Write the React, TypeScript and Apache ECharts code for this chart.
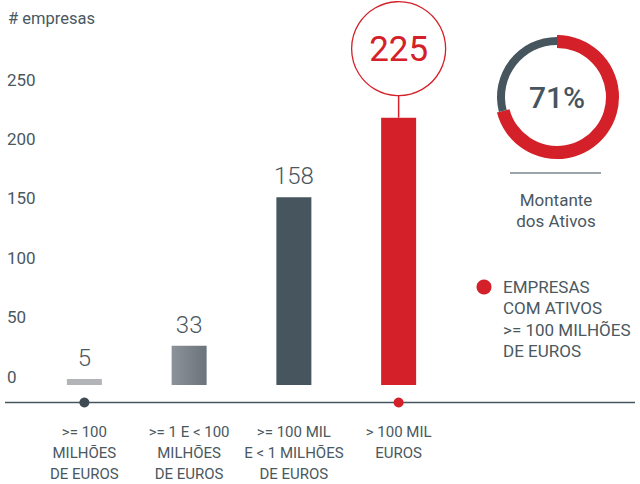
import React, { useEffect, useRef } from "react";
import * as echarts from "echarts";

const yTitle = "# empresas";
const categories = [
  ">= 100\nMILHÕES\nDE EUROS",
  ">= 1 E < 100\nMILHÕES\nDE EUROS",
  ">= 100 MIL\nE < 1 MILHÕES\nDE EUROS",
  "> 100 MIL\nEUROS",
];
const values = [5, 33, 158, 225];
const barColors = ["#b2b4b7", "grad", "#46555e", "#d42029"];
const highlightIndex = 3;
const dotIndices = [0, 3];
const dotColors = ["#3f4b52", "#d42029"];
const yMin = 0;
const yMax = 250;
const yInterval = 50;
const donutShare = 71;
const donutCaption = ["Montante", "dos Ativos"];
const legendLines = ["EMPRESAS", "COM ATIVOS", ">= 100 MILHÕES", "DE EUROS"];

const TXT = "#4a5860";
const DARK = "#46555e";
const RED = "#d42029";

export default function App() {
  const ref = useRef<HTMLDivElement>(null);
  useEffect(() => {
    if (!ref.current) return;
    const chart = echarts.init(ref.current, undefined, { renderer: "svg" });
    const barData = values.map((v, i) => {
      let color: any = barColors[i];
      if (color === "grad") {
        color = new echarts.graphic.LinearGradient(0, 0, 1, 0, [
          { offset: 0, color: "#8c9299" },
          { offset: 1, color: "#6b747b" },
        ]);
      }
      return {
        value: v,
        itemStyle: { color },
        label: { show: i !== highlightIndex },
      };
    });
    chart.setOption({
      animation: false,
      textStyle: { fontFamily: "Roboto" },
      grid: { left: 32, right: 189, top: 88, bottom: 98 },
      xAxis: {
        type: "category",
        data: categories,
        axisLine: { show: false },
        axisTick: { show: false },
        axisLabel: {
          margin: 36,
          fontSize: 15,
          lineHeight: 21,
          color: TXT,
          verticalAlign: "top",
          interval: 0,
        },
      },
      yAxis: {
        type: "value",
        min: yMin,
        max: yMax,
        interval: yInterval,
        splitLine: { show: false },
        axisLine: { show: false },
        axisTick: { show: false },
        axisLabel: {
          align: "left",
          margin: 25,
          fontSize: 17,
          color: TXT,
          verticalAlign: "bottom",
        },
      },
      series: [
        {
          type: "bar",
          barWidth: 35,
          data: barData,
          label: {
            position: "top",
            distance: 9,
            fontSize: 24,
            fontWeight: 300,
            color: TXT,
          },
        },
        {
          type: "pie",
          silent: true,
          center: [557, 97],
          radius: [49, 62],
          startAngle: 90,
          clockwise: true,
          label: { show: false },
          labelLine: { show: false },
          data: [
            { value: donutShare, itemStyle: { color: RED } },
            { value: 100 - donutShare, itemStyle: { color: "transparent" } },
          ],
        },
        {
          type: "pie",
          silent: true,
          center: [557, 97],
          radius: [52, 60],
          startAngle: 90,
          clockwise: true,
          label: { show: false },
          labelLine: { show: false },
          data: [
            { value: donutShare, itemStyle: { color: "transparent" } },
            { value: 100 - donutShare, itemStyle: { color: DARK } },
          ],
        },
      ],
    });

    const top = chart.convertToPixel({ seriesIndex: 0 }, [highlightIndex, values[highlightIndex]]) as number[];
    const hx = top[0];
    const hy = top[1];
    const lineLen = 22;
    const r = 47;
    const cy = hy - lineLen - r;
    const baseY = 402.5;

    const graphics: any[] = [
      {
        type: "text",
        left: 8,
        top: 10,
        style: { text: yTitle, fontSize: 16.5, fill: TXT, fontFamily: "Roboto" },
      },
      {
        type: "line",
        shape: { x1: 5, y1: baseY, x2: 635, y2: baseY },
        style: { stroke: DARK, lineWidth: 1.5 },
      },
      {
        type: "line",
        shape: { x1: hx, y1: hy, x2: hx, y2: hy - lineLen },
        style: { stroke: RED, lineWidth: 1.5 },
      },
      {
        type: "circle",
        shape: { cx: hx, cy, r },
        style: { stroke: RED, lineWidth: 1.3, fill: "#fff" },
      },
      {
        type: "text",
        x: hx,
        y: cy + 1,
        style: {
          text: String(values[highlightIndex]),
          fontSize: 35,
          fill: RED,
          fontFamily: "Roboto",
          align: "center",
          verticalAlign: "middle",
        },
      },
      {
        type: "text",
        x: 557,
        y: 97,
        style: {
          text: donutShare + "%",
          fontSize: 30,
          fontWeight: 500,
          fill: DARK,
          fontFamily: "Roboto",
          align: "center",
          verticalAlign: "middle",
        },
      },
      {
        type: "line",
        shape: { x1: 510, y1: 173, x2: 601, y2: 173 },
        style: { stroke: "#9ba4a8", lineWidth: 2 },
      },
      {
        type: "text",
        x: 556,
        y: 210,
        style: {
          text: donutCaption.join("\n"),
          fontSize: 17,
          lineHeight: 21,
          fill: TXT,
          fontFamily: "Roboto",
          align: "center",
          verticalAlign: "middle",
        },
      },
      {
        type: "circle",
        shape: { cx: 484, cy: 287, r: 7.5 },
        style: { fill: RED },
      },
      {
        type: "text",
        x: 503,
        y: 276,
        style: {
          text: legendLines.join("\n"),
          fontSize: 17,
          lineHeight: 21.5,
          fill: TXT,
          fontFamily: "Roboto",
          align: "left",
          verticalAlign: "top",
        },
      },
    ];
    dotIndices.forEach((idx, k) => {
      const p = chart.convertToPixel({ seriesIndex: 0 }, [idx, 0]) as number[];
      graphics.push({
        type: "circle",
        shape: { cx: p[0], cy: baseY, r: 5 },
        style: { fill: dotColors[k] },
      });
    });
    chart.setOption({ graphic: graphics });

    return () => chart.dispose();
  }, []);
  return (
    <div
      ref={ref}
      style={{ position: "fixed", left: 0, top: 0, width: 640, height: 484, background: "#fff" }}
    />
  );
}
